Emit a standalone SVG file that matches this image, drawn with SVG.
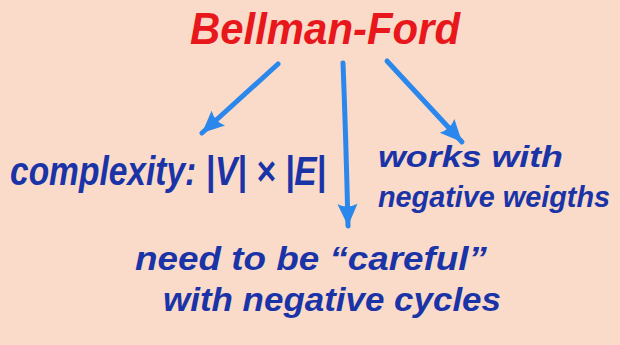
<svg xmlns="http://www.w3.org/2000/svg" width="620" height="345" viewBox="0 0 620 345">
<style>
.hand{font-family:"Liberation Sans","DejaVu Sans",sans-serif;font-style:italic;font-weight:bold;}
.title{fill:#e8171c;font-size:44px;}
.note{fill:#1a34a8;}
.arrow{fill:none;stroke:#2b87ec;stroke-width:5;stroke-linecap:round;}
</style>
<defs>
<marker id="head" viewBox="0 0 24 24" refX="23" refY="12" markerWidth="24" markerHeight="24" markerUnits="userSpaceOnUse" orient="auto">
<path d="M1,2 L23,12 L1,22 Q6,12 1,2 z" fill="#2b87ec"/>
</marker>
</defs>
<rect width="620" height="345" fill="#fadbc9"/>
<g id="connectors">
<path class="arrow" d="M278,64 L202,133" marker-end="url(#head)"/>
<path class="arrow" d="M343,63 Q346,140 348,226" marker-end="url(#head)"/>
<path class="arrow" d="M387,61 L462,142" marker-end="url(#head)"/>
</g>
<g id="title">
<text class="hand title" x="190" y="44" textLength="270" lengthAdjust="spacingAndGlyphs">Bellman-Ford</text>
</g>
<g id="complexity">
<text class="hand note" x="10" y="185" font-size="40" textLength="316" lengthAdjust="spacingAndGlyphs">complexity: |V| × |E|</text>
</g>
<g id="negative-weights">
<text class="hand note" x="378" y="167" font-size="30" textLength="185" lengthAdjust="spacingAndGlyphs">works with</text>
<text class="hand note" x="378" y="207" font-size="30" textLength="232" lengthAdjust="spacingAndGlyphs">negative weigths</text>
</g>
<g id="negative-cycles">
<text class="hand note" x="135" y="270" font-size="34" textLength="352" lengthAdjust="spacingAndGlyphs">need to be “careful”</text>
<text class="hand note" x="163" y="311" font-size="34" textLength="338" lengthAdjust="spacingAndGlyphs">with negative cycles</text>
</g>
</svg>
